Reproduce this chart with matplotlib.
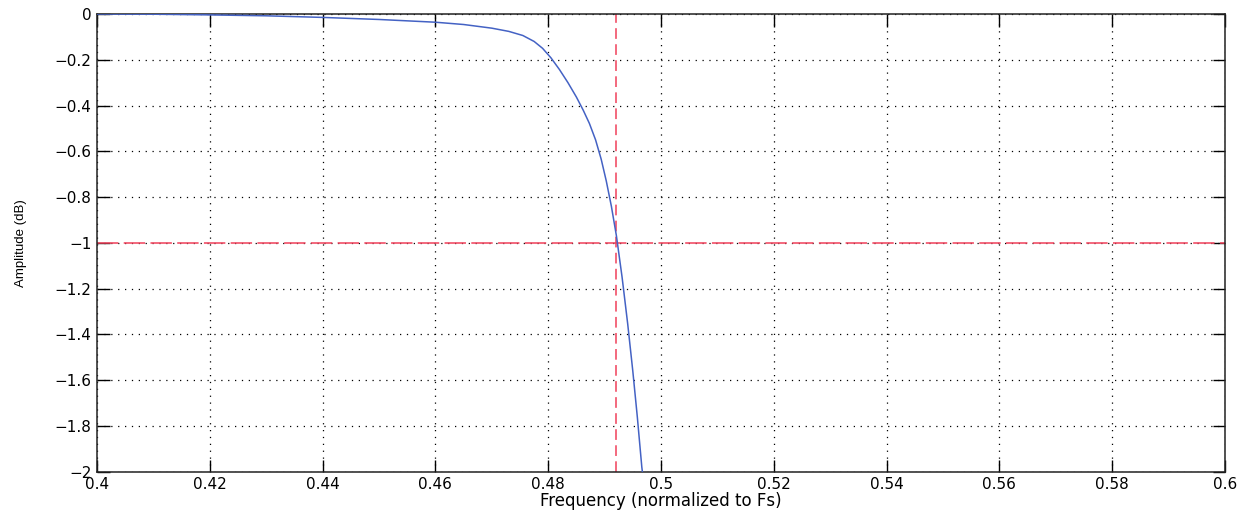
import numpy as np
import matplotlib
matplotlib.use("Agg")
import matplotlib.pyplot as plt
from matplotlib.ticker import FuncFormatter, MultipleLocator

# =========================
# Data
# =========================
freq = [0.40, 0.41, 0.42, 0.43, 0.44, 0.45, 0.46, 0.465, 0.47, 0.473,
        0.4755, 0.4775, 0.479, 0.4805, 0.482, 0.4835, 0.485, 0.4862,
        0.4873, 0.4884, 0.4894, 0.4903, 0.4912, 0.4921, 0.4931, 0.4941,
        0.4950, 0.4958, 0.4966, 0.4967]
amp_db = [0.0, -0.001, -0.004, -0.008, -0.015, -0.024, -0.036, -0.046, -0.062, -0.076,
          -0.094, -0.12, -0.15, -0.192, -0.243, -0.300, -0.363, -0.42,
          -0.478, -0.55, -0.635, -0.73, -0.84, -0.97, -1.15, -1.355,
          -1.56, -1.76, -1.98, -2.0]

cutoff_freq = 0.492
cutoff_level = -1.0

x_limits = (0.4, 0.6)
y_limits = (-2.0, 0.0)

plt.rcParams["font.family"] = ["DejaVu Sans"]


def fmt(v, pos):
    s = "%g" % round(v, 4)
    if s == "-0":
        s = "0"
    return s.replace("-", "\u2212")


fig = plt.figure(figsize=(12.57, 5.12), dpi=100)
ax = fig.add_axes([0.0772, 0.0787, 0.8973, 0.894])

ax.plot(freq, amp_db, color="#4462c4", lw=1.1, zorder=3)
ax.axvline(cutoff_freq, color="#f0405a", lw=1.1, ls=(0, (7, 3.5)), zorder=2)
ax.axhline(cutoff_level, color="#f0405a", lw=1.1, ls=(0, (14, 3.5)), zorder=2)

ax.set_xlim(*x_limits)
ax.set_ylim(*y_limits)
ax.xaxis.set_major_locator(MultipleLocator(0.02))
ax.yaxis.set_major_locator(MultipleLocator(0.2))
ax.xaxis.set_major_formatter(FuncFormatter(fmt))
ax.yaxis.set_major_formatter(FuncFormatter(fmt))

ax.grid(True, color="black", lw=0.9, ls=(0, (1, 4.5)))
ax.tick_params(direction="in", length=9, width=1, top=True, right=True,
               labelsize=11, pad=4)
for sp in ax.spines.values():
    sp.set_linewidth(1.1)
    sp.set_color("#222222")

ax.set_xlabel("Frequency (normalized to Fs)", fontsize=12, labelpad=0)
ax.set_ylabel("Amplitude (dB)", fontsize=9.5, family="Liberation Sans")
ax.yaxis.set_label_coords(-0.062, 0.5)

fig.savefig("out.png", dpi=100)
